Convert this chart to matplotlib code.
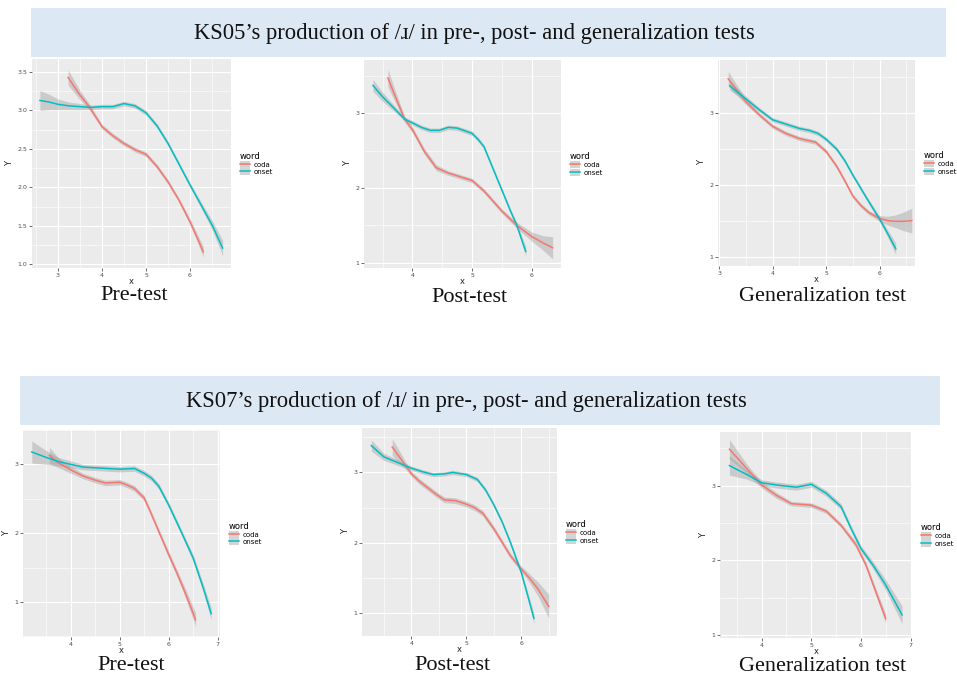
import numpy as np
import matplotlib
matplotlib.use("Agg")
import matplotlib.pyplot as plt
from matplotlib.patches import Rectangle, Patch
from matplotlib.lines import Line2D
from matplotlib.ticker import MultipleLocator, FormatStrFormatter

W, H = 957, 675
CODA = "#F8766D"
ONSET = "#00BFC4"
SERIF = ["Liberation Serif", "DejaVu Serif"]

titles = [
    "KS05\u2019s production of /\u0279/ in pre-, post- and generalization tests",
    "KS07\u2019s production of /\u0279/ in pre-, post- and generalization tests",
]
captions = ["Pre-test", "Post-test", "Generalization test"]

# KS05 pre-test
p1_coda_x = [3.23, 3.5, 3.71, 4.0, 4.25, 4.5, 4.75, 5.0, 5.25, 5.5, 5.75, 6.0, 6.15, 6.3]
p1_coda_y = [3.43, 3.2, 3.05, 2.79, 2.67, 2.57, 2.49, 2.43, 2.27, 2.07, 1.83, 1.55, 1.36, 1.16]
p1_coda_se = [0.1, 0.06, 0.04, 0.03, 0.03, 0.03, 0.03, 0.03, 0.03, 0.03, 0.03, 0.04, 0.05, 0.07]
p1_onset_x = [2.59, 2.8, 3.0, 3.25, 3.5, 3.75, 4.0, 4.25, 4.5, 4.75, 5.0, 5.25, 5.5, 5.75, 6.0, 6.25, 6.5, 6.74]
p1_onset_y = [3.13, 3.11, 3.08, 3.06, 3.05, 3.04, 3.05, 3.05, 3.09, 3.06, 2.97, 2.8, 2.57, 2.3, 2.03, 1.77, 1.51, 1.21]
p1_onset_se = [0.13, 0.1, 0.07, 0.05, 0.04, 0.03, 0.03, 0.03, 0.03, 0.03, 0.03, 0.03, 0.03, 0.03, 0.03, 0.04, 0.06, 0.1]

# KS05 post-test
p2_coda_x = [3.59, 3.7, 3.87, 4.0, 4.2, 4.4, 4.6, 4.8, 5.0, 5.2, 5.5, 5.75, 6.0, 6.2, 6.35]
p2_coda_y = [3.47, 3.25, 2.92, 2.78, 2.49, 2.27, 2.2, 2.15, 2.1, 1.96, 1.69, 1.5, 1.35, 1.26, 1.2]
p2_coda_se = [0.12, 0.08, 0.04, 0.04, 0.04, 0.04, 0.03, 0.03, 0.03, 0.03, 0.03, 0.04, 0.06, 0.1, 0.15]
p2_onset_x = [3.34, 3.5, 3.7, 3.87, 4.0, 4.15, 4.3, 4.45, 4.6, 4.75, 5.0, 5.1, 5.2, 5.35, 5.5, 5.65, 5.75, 5.9]
p2_onset_y = [3.37, 3.22, 3.06, 2.92, 2.87, 2.81, 2.77, 2.77, 2.81, 2.8, 2.73, 2.65, 2.55, 2.26, 1.97, 1.68, 1.5, 1.15]
p2_onset_se = [0.08, 0.06, 0.04, 0.03, 0.03, 0.03, 0.03, 0.03, 0.03, 0.03, 0.03, 0.03, 0.03, 0.03, 0.03, 0.03, 0.04, 0.06]

# KS05 generalization test
p3_coda_x = [3.17, 3.5, 3.75, 4.0, 4.25, 4.5, 4.8, 5.0, 5.2, 5.35, 5.5, 5.65, 5.8, 6.0, 6.15, 6.3, 6.45, 6.6]
p3_coda_y = [3.48, 3.16, 2.98, 2.82, 2.72, 2.65, 2.6, 2.47, 2.26, 2.06, 1.85, 1.72, 1.62, 1.54, 1.51, 1.5, 1.5, 1.51]
p3_coda_se = [0.1, 0.04, 0.03, 0.03, 0.03, 0.03, 0.03, 0.03, 0.03, 0.03, 0.03, 0.03, 0.03, 0.04, 0.06, 0.09, 0.13, 0.17]
p3_onset_x = [3.2, 3.5, 3.75, 4.0, 4.25, 4.5, 4.7, 4.85, 5.0, 5.2, 5.35, 5.5, 5.75, 6.0, 6.15, 6.3]
p3_onset_y = [3.38, 3.2, 3.05, 2.91, 2.85, 2.79, 2.76, 2.72, 2.64, 2.5, 2.34, 2.14, 1.83, 1.53, 1.33, 1.12]
p3_onset_se = [0.06, 0.04, 0.03, 0.03, 0.03, 0.03, 0.03, 0.03, 0.03, 0.03, 0.03, 0.03, 0.03, 0.04, 0.05, 0.08]

# KS07 pre-test
p4_coda_x = [3.56, 3.75, 4.0, 4.25, 4.5, 4.7, 5.0, 5.15, 5.3, 5.5, 5.65, 5.8, 6.0, 6.15, 6.3, 6.45, 6.55]
p4_coda_y = [3.13, 3.02, 2.92, 2.83, 2.77, 2.73, 2.74, 2.7, 2.65, 2.51, 2.27, 2.02, 1.69, 1.45, 1.2, 0.93, 0.74]
p4_coda_se = [0.12, 0.07, 0.05, 0.04, 0.04, 0.04, 0.04, 0.04, 0.04, 0.04, 0.04, 0.04, 0.05, 0.05, 0.06, 0.08, 0.1]
p4_onset_x = [3.2, 3.5, 3.75, 4.0, 4.25, 4.5, 4.75, 5.0, 5.3, 5.5, 5.65, 5.8, 6.0, 6.25, 6.5, 6.7, 6.87]
p4_onset_y = [3.18, 3.1, 3.04, 3.0, 2.96, 2.95, 2.94, 2.93, 2.94, 2.87, 2.8, 2.68, 2.41, 2.03, 1.64, 1.22, 0.83]
p4_onset_se = [0.16, 0.1, 0.06, 0.05, 0.04, 0.04, 0.04, 0.04, 0.04, 0.04, 0.04, 0.04, 0.04, 0.04, 0.05, 0.06, 0.09]

# KS07 post-test
p5_coda_x = [3.65, 3.8, 3.9, 4.0, 4.15, 4.3, 4.45, 4.6, 4.8, 5.0, 5.15, 5.3, 5.5, 5.65, 5.8, 6.0, 6.15, 6.3, 6.5]
p5_coda_y = [3.36, 3.2, 3.09, 2.98, 2.87, 2.78, 2.69, 2.61, 2.6, 2.55, 2.5, 2.42, 2.2, 2.01, 1.82, 1.63, 1.5, 1.35, 1.1]
p5_coda_se = [0.12, 0.08, 0.05, 0.04, 0.04, 0.04, 0.04, 0.04, 0.04, 0.04, 0.04, 0.04, 0.04, 0.04, 0.04, 0.04, 0.06, 0.1, 0.17]
p5_onset_x = [3.27, 3.5, 3.75, 4.0, 4.2, 4.4, 4.6, 4.75, 5.0, 5.2, 5.35, 5.5, 5.65, 5.8, 6.0, 6.1, 6.23]
p5_onset_y = [3.38, 3.22, 3.14, 3.06, 3.01, 2.97, 2.98, 3.0, 2.97, 2.9, 2.75, 2.54, 2.3, 2.01, 1.58, 1.3, 0.93]
p5_onset_se = [0.08, 0.05, 0.04, 0.03, 0.03, 0.03, 0.03, 0.03, 0.03, 0.03, 0.03, 0.03, 0.03, 0.03, 0.04, 0.05, 0.07]

# KS07 generalization test
p6_coda_x = [3.35, 3.7, 4.0, 4.3, 4.6, 4.8, 5.0, 5.3, 5.6, 5.9, 6.1, 6.3, 6.5]
p6_coda_y = [3.49, 3.23, 3.01, 2.87, 2.76, 2.75, 2.74, 2.66, 2.47, 2.21, 1.94, 1.58, 1.22]
p6_coda_se = [0.13, 0.06, 0.04, 0.04, 0.03, 0.03, 0.03, 0.03, 0.03, 0.04, 0.04, 0.05, 0.06]
p6_onset_x = [3.35, 3.7, 4.0, 4.3, 4.7, 5.0, 5.3, 5.6, 5.8, 6.0, 6.25, 6.5, 6.83]
p6_onset_y = [3.27, 3.15, 3.04, 3.01, 2.98, 3.02, 2.9, 2.72, 2.43, 2.16, 1.93, 1.67, 1.27]
p6_onset_se = [0.13, 0.06, 0.04, 0.04, 0.04, 0.04, 0.04, 0.04, 0.04, 0.04, 0.05, 0.07, 0.12]

panels = [
    # pixel box (left, top, right, bottom), axis limits, y tick step, curves
    dict(box=(32, 59, 231, 268), xlim=(2.41, 6.93), ylim=(0.95, 3.67), ystep=0.5,
         coda=(p1_coda_x, p1_coda_y, p1_coda_se), onset=(p1_onset_x, p1_onset_y, p1_onset_se)),
    dict(box=(364, 60, 561, 268), xlim=(3.19, 6.49), ylim=(0.93, 3.71), ystep=1,
         coda=(p2_coda_x, p2_coda_y, p2_coda_se), onset=(p2_onset_x, p2_onset_y, p2_onset_se)),
    dict(box=(718, 60, 915, 266), xlim=(2.98, 6.66), ylim=(0.88, 3.74), ystep=1,
         coda=(p3_coda_x, p3_coda_y, p3_coda_se), onset=(p3_onset_x, p3_onset_y, p3_onset_se)),
    dict(box=(23, 430, 220, 637), xlim=(3.02, 7.05), ylim=(0.49, 3.5), ystep=1,
         coda=(p4_coda_x, p4_coda_y, p4_coda_se), onset=(p4_onset_x, p4_onset_y, p4_onset_se)),
    dict(box=(362, 428, 557, 636), xlim=(3.1, 6.65), ylim=(0.68, 3.63), ystep=1,
         coda=(p5_coda_x, p5_coda_y, p5_coda_se), onset=(p5_onset_x, p5_onset_y, p5_onset_se)),
    dict(box=(720, 432, 912, 638), xlim=(3.16, 7.03), ylim=(0.96, 3.72), ystep=1,
         coda=(p6_coda_x, p6_coda_y, p6_coda_se), onset=(p6_onset_x, p6_onset_y, p6_onset_se)),
]

# caption centre x and baseline y, in pixels
caption_pos = [(134, 300), (469, 302), (823, 301), (131, 670), (452, 670), (823, 671)]


def rect(l, t, r, b):
    return [l / W, 1 - b / H, (r - l) / W, (b - t) / H]


fig = plt.figure(figsize=(W / 100, H / 100), dpi=100)

# title banners
for (l, t, r, b), txt, (tx, ty) in zip([(31, 8, 946, 57), (20, 376, 940, 425)], titles,
                                        [(474, 33), (466, 401)]):
    fig.patches.append(Rectangle((l / W, 1 - b / H), (r - l) / W, (b - t) / H,
                                 transform=fig.transFigure, facecolor="#DDE8F5",
                                 edgecolor="none", zorder=0))
    fig.text(tx / W, 1 - ty / H, txt, ha="center", va="center",
             fontsize=16.3, family=SERIF, color="#111111")

for p, (cx, cy), cap in zip(panels, caption_pos, captions * 2):
    ax = fig.add_axes(rect(*p["box"]))
    ax.set_facecolor("#EBEBEB")
    for s in ax.spines.values():
        s.set_visible(False)

    for key, col in [("coda", CODA), ("onset", ONSET)]:
        x, y, se = (np.array(v) for v in p[key])
        ax.fill_between(x, y - se, y + se, color="#999999", alpha=0.4,
                        linewidth=0, zorder=2)
        ax.plot(x, y, color=col, lw=1.1, zorder=3)

    ax.set_xlim(*p["xlim"])
    ax.set_ylim(*p["ylim"])
    ax.xaxis.set_major_locator(MultipleLocator(1))
    ax.xaxis.set_minor_locator(MultipleLocator(0.5))
    ax.yaxis.set_major_locator(MultipleLocator(p["ystep"]))
    ax.yaxis.set_minor_locator(MultipleLocator(p["ystep"] / 2))
    if p["ystep"] == 0.5:
        ax.yaxis.set_major_formatter(FormatStrFormatter("%.1f"))
    ax.grid(which="major", color="white", lw=0.8, zorder=1)
    ax.grid(which="minor", color="white", lw=0.4, zorder=1)
    ax.set_axisbelow(True)
    ax.tick_params(which="major", length=2, width=0.5, color="#333333",
                   labelsize=4.5, labelcolor="#4D4D4D", pad=1.5)
    ax.tick_params(which="minor", length=0)
    ax.set_xlabel("x", fontsize=6, color="#222222", labelpad=-0.3)
    ax.set_ylabel("Y", fontsize=6, color="#222222", labelpad=2)

    handles = [(Patch(facecolor="#D4D4D4", edgecolor="none"), Line2D([], [], color=CODA, lw=1.1)),
               (Patch(facecolor="#D4D4D4", edgecolor="none"), Line2D([], [], color=ONSET, lw=1.1))]
    ax.legend(handles, ["coda", "onset"], title="word", loc="center left",
              bbox_to_anchor=(1.03, 0.5), frameon=False, fontsize=5,
              title_fontsize=6, handlelength=1.5, handleheight=1.2,
              handletextpad=0.5, labelspacing=0.05, alignment="left",
              borderaxespad=0)

    fig.text(cx / W, 1 - cy / H, cap, ha="center", va="baseline",
             fontsize=16, family=SERIF, color="#111111")

fig.savefig("out.png", dpi=100)
